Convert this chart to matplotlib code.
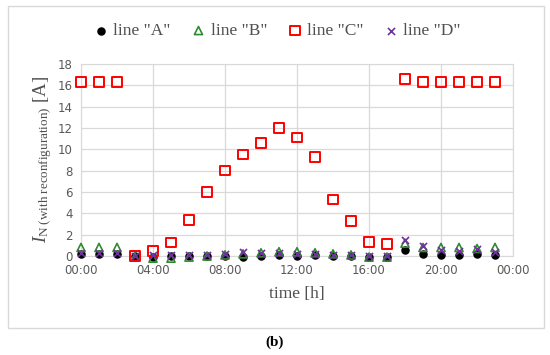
import matplotlib
matplotlib.use('Agg')
import matplotlib.pyplot as plt
from matplotlib.patches import Rectangle

# hourly samples 00:00 .. 23:00
hours = list(range(24))
line_a = [0.2, 0.2, 0.2, 0.0, -0.1, 0.0, 0.0, 0.0, 0.0, -0.1, 0.0, 0.1, 0.0, 0.1, 0.0, 0.0, -0.1, -0.1, 0.6, 0.2, 0.1, 0.1, 0.2, 0.1]
line_b = [0.8, 0.8, 0.8, -0.1, -0.2, -0.2, -0.1, 0.0, 0.1, 0.2, 0.3, 0.4, 0.4, 0.3, 0.2, 0.1, -0.1, -0.1, 1.2, 0.8, 0.8, 0.8, 0.7, 0.8]
line_c = [16.3, 16.3, 16.3, 0.0, 0.45, 1.25, 3.4, 6.0, 8.0, 9.5, 10.6, 12.0, 11.1, 9.3, 5.3, 3.3, 1.3, 1.1, 16.6, 16.3, 16.3, 16.3, 16.3, 16.3]
line_d = [0.3, 0.3, 0.3, 0.0, 0.1, 0.1, 0.1, 0.1, 0.2, 0.4, 0.3, 0.3, 0.2, 0.2, 0.1, 0.1, 0.0, 0.0, 1.5, 0.9, 0.6, 0.5, 0.7, 0.4]
tick_hours = [0, 4, 8, 12, 16, 20, 24]
tick_labels = ['00:00', '04:00', '08:00', '12:00', '16:00', '20:00', '00:00']

plt.rcParams['mathtext.fontset'] = 'custom'
plt.rcParams['mathtext.rm'] = 'Liberation Serif'
plt.rcParams['mathtext.it'] = 'Liberation Serif:italic'

W, H = 550, 355
fig = plt.figure(figsize=(5.5, 3.55), dpi=100)
ax = fig.add_axes([81 / W, 1 - 256 / H, (513 - 81) / W, (256 - 64) / H])

ax.scatter(hours, line_a, marker='o', s=26, color='black', label='line "A"', zorder=3, clip_on=False)
ax.scatter(hours, line_b, marker='^', s=34, facecolors='none', edgecolors='#2e8b2e', linewidths=1.2, label='line "B"', zorder=4, clip_on=False)
ax.scatter(hours, line_c, marker='s', s=48, facecolors='none', edgecolors='#ff0000', linewidths=1.4, label='line "C"', zorder=5, clip_on=False)
ax.scatter(hours, line_d, marker='x', s=26, color='#7030a0', linewidths=1.2, label='line "D"', zorder=6, clip_on=False)

ax.set_xlim(0, 24)
ax.set_ylim(0, 18)
ax.set_xticks(tick_hours)
ax.set_xticklabels(tick_labels)
ax.set_yticks(range(0, 19, 2))
ax.grid(True, color='#d9d9d9', linewidth=0.9)
ax.set_axisbelow(True)
for s in ax.spines.values():
    s.set_color('#d9d9d9')
ax.tick_params(length=0, labelsize=8.5, colors='#595959', pad=6)

ax.set_xlabel('time [h]', family='Liberation Serif', fontsize=12.5, color='#505050', labelpad=6)
ax.set_ylabel(r'$I_{\mathrm{N\ (with\ reconfiguration)}}$ [A]', family='Liberation Serif',
              fontsize=13.5, color='#505050', labelpad=3)

fig.legend(loc='center', bbox_to_anchor=(0.5, 1 - 31 / H), ncol=4, frameon=False,
           prop={'family': 'Liberation Serif', 'size': 12.5}, handletextpad=0.0,
           columnspacing=0.9, labelcolor='#505050', handlelength=1.4)

fig.patches.append(Rectangle((8 / W, 1 - 328 / H), (544 - 8) / W, (328 - 6) / H,
                             transform=fig.transFigure, fill=False, edgecolor='#d9d9d9', linewidth=1))
fig.text(0.5, 1 - 342 / H, '(b)', ha='center', va='center', family='Liberation Serif',
         fontsize=11, fontweight='bold')

fig.savefig('out.png', dpi=100)
